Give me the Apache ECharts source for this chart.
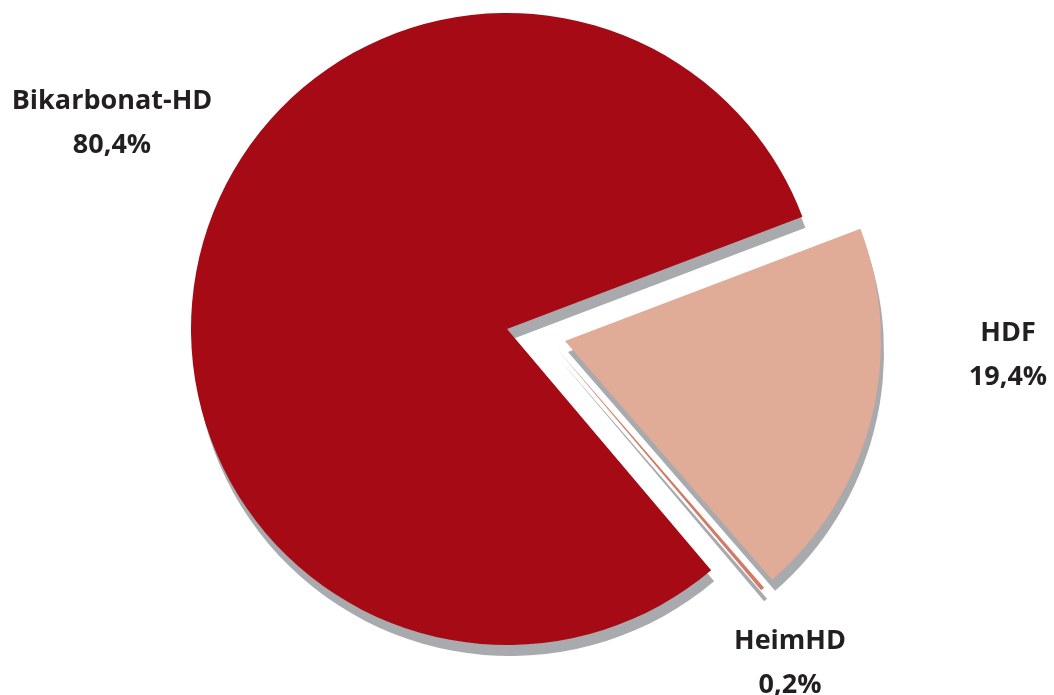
<!DOCTYPE html>
<html>
<head>
<meta charset="utf-8">
<script src="https://cdn.jsdelivr.net/npm/echarts@6/dist/echarts.min.js"></script>
<style>html,body{margin:0;padding:0;background:#fff;}#c{width:1054px;height:695px;}</style>
</head>
<body>
<div id="c"></div>
<script>
var categories = ['HDF', 'HeimHD', 'Bikarbonat-HD'];
var values = [19.4, 0.2, 80.4];
var colors = ['#E0AC98', '#D27A63', '#A50A15'];
// slice centers (exploded offsets) and label anchor points
var centers = [[565, 341], [557, 349], [507, 329]];
var labelPos = [[1008, 355], [790, 663], [112, 123]];

var chart = echarts.init(document.getElementById('c'));

function buildSeries(idx) {
  return {
    type: 'pie',
    center: centers[idx],
    radius: 316,
    startAngle: 20.8,
    clockwise: true,
    silent: true,
    avoidLabelOverlap: false,
    z: 2 + (idx === 2 ? 0 : idx + 1),
    label: {
      show: true,
      position: 'outside',
      fontFamily: 'Open Sans',
      fontWeight: 'bold',
      fontSize: 27,
      lineHeight: 44,
      color: '#231F20',
      align: 'center',
      formatter: function (p) {
        return p.name + '\n' + p.value.toFixed(1).replace('.', ',') + '%';
      }
    },
    labelLine: { show: false },
    labelLayout: function (p) {
      if (p.dataIndex !== idx) return {};
      return { x: labelPos[idx][0], y: labelPos[idx][1], align: 'center', verticalAlign: 'middle' };
    },
    data: categories.map(function (n, i) {
      var on = i === idx;
      return {
        name: n,
        value: values[i],
        itemStyle: on ? {
          color: colors[i],
          shadowColor: '#A9AAAD',
          shadowBlur: 0,
          shadowOffsetX: 3,
          shadowOffsetY: 11
        } : { color: 'rgba(0,0,0,0)', shadowColor: 'rgba(0,0,0,0)' },
        label: { show: on }
      };
    })
  };
}

chart.setOption({
  animation: false,
  backgroundColor: '#ffffff',
  series: [buildSeries(2), buildSeries(0), buildSeries(1)]
});
</script>
</body>
</html>
